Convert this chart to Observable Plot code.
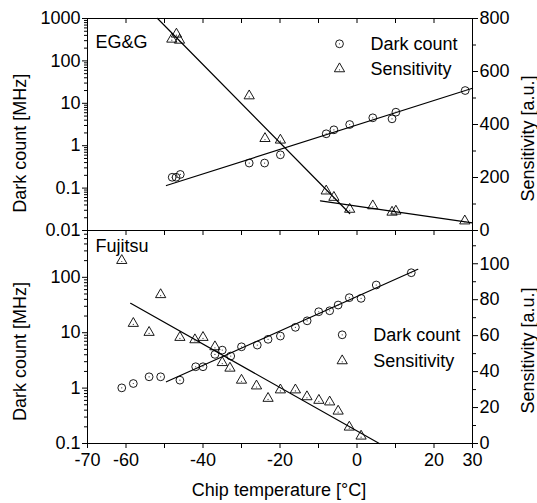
<!DOCTYPE html>
<html><head><meta charset="utf-8">
<script src="https://cdn.jsdelivr.net/npm/d3@7"></script>
<script src="https://cdn.jsdelivr.net/npm/@observablehq/plot@0.6"></script>
<style>
body{margin:0;background:#fff;}
#chart{width:537px;height:503px;position:relative;background:#fff;}
#chart svg{display:block;overflow:visible;}
</style></head><body><div id="chart"></div>
<script>
// ---- shared x axis ----
const tempTicks = [-70,-60,-50,-40,-30,-20,-10,0,10,20,30];
const tempLabels = [-70,-60,-40,-20,0,20,30];

// ---- EG&G panel ----
const egDarkT = [-48.0,-47.0,-45.9,-28.0,-24.0,-19.9,-8.0,-6.0,-1.9,4.1,9.1,10.1,28.1];
const egDarkV = [0.18,0.18,0.21,0.39,0.39,0.61,1.91,2.37,3.16,4.55,4.3,6.17,20];
const egSensT = [-48.1,-46.9,-46.1,-28.0,-23.9,-19.9,-8.0,-6.0,-1.9,4.1,9.1,10.1,28.0];
const egSensV = [722,741,718,508,347,341,149,125,80,93,69,73,36];
const egDarkFitT = [-49.5, 30], egDarkFitV = [0.115, 22.7];
const egSensFit1T = [-51.8, -1.9], egSensFit1V = [800, 64];
const egSensFit2T = [-9.5, 30], egSensFit2V = [112, 28.7];
const egLeftMajor = [0.01,0.1,1,10,100,1000];
const egRightMajor = [0,200,400,600,800];
const egRightMinor = [100,300,500,700];

// ---- Fujitsu panel ----
const fjDarkT = [-61.1,-58.1,-54.0,-51.0,-46.0,-41.9,-40.0,-36.9,-35.0,-32.8,-30.0,-25.9,-23.1,-19.9,-16.0,-12.95,-9.94,-7.1,-4.9,-2.0,1.06,5.0,14.1];
const fjDarkV = [1.01,1.21,1.6,1.6,1.39,2.43,2.43,4.06,4.85,3.79,5.57,5.98,7.6,8.7,12.5,16.4,23.9,24.9,31.6,42.9,41.7,72.6,121];
const fjSensT = [-61.1,-58.1,-54.0,-51.0,-46.0,-42.1,-40.0,-36.9,-35.0,-33.0,-30.0,-26.1,-23.1,-19.9,-16.0,-13.0,-9.9,-7.1,-4.9,-2.0,1.06];
const fjSensV = [101.8,66.8,61.8,82.8,59,57.7,59,53.8,45,41.9,35.2,32,25.1,29.8,29.8,26,24,23.1,18,9.1,4.1];
const fjDarkFitT = [-49.5, 15.8], fjDarkFitV = [1.30, 139.6];
const fjSensFitT = [-58.8, 5.8], fjSensFitV = [78, 0];
const fjLeftMajor = [0.1,1,10,100];
const fjRightMajor = [0,20,40,60,80,100];
const fjRightMinor = [10,30,50,70,90,110];

const FONT = "Arial, 'Liberation Sans', Helvetica, sans-serif";
const W = 537, ML = 87, MR = 65;

function logMinor(lo, hi) {
  const out = [];
  for (let e = Math.round(Math.log10(lo)); e < Math.round(Math.log10(hi)) + 1; e++) {
    for (let k = 2; k <= 9; k++) { const v = k * Math.pow(10, e); if (v > lo && v < hi) out.push(v); }
  }
  return out;
}

function panel(cfg) {
  const [y0, y1] = cfg.yDomain;
  const l0 = Math.log10(y0), l1 = Math.log10(y1);
  const toY = s => Math.pow(10, l0 + (s / cfg.sMax) * (l1 - l0));
  const dark = cfg.darkT.map((t, i) => ({t, v: cfg.darkV[i]}));
  const sens = cfg.sensT.map((t, i) => ({t, v: toY(cfg.sensV[i])}));
  const frameH = cfg.height - cfg.marginTop - cfg.marginBottom;
  const fitLines = cfg.darkFits.map(f => f.T.map((t, i) => ({t, v: f.V[i]})))
    .concat(cfg.sensFits.map(f => f.T.map((t, i) => ({t, v: toY(f.V[i])}))));
  const sym = {stroke: "black", fill: "none", strokeWidth: 0.9};
  const marks = [
    Plot.axisY({anchor: "left", ticks: cfg.leftMajor, tickSize: 5, tickPadding: 2, tickFormat: d => String(d), label: null}),
    Plot.axisY({anchor: "left", ticks: logMinor(y0, y1), tickSize: 3, tickFormat: () => "", label: null}),
    Plot.axisY({anchor: "right", ticks: cfg.rightMajor.map(toY), tickSize: 5, tickFormat: () => "", label: null}),
    Plot.axisY({anchor: "right", ticks: cfg.rightMinor.map(toY), tickSize: 3, tickFormat: () => "", label: null}),
    Plot.text(cfg.rightMajor, {frameAnchor: "right", y: d => toY(d), text: d => String(d), dx: 7, textAnchor: "start", lineAnchor: "middle", fontSize: 18}),
    Plot.ruleX(tempTicks, {x: d => d, insetBottom: frameH - 5, stroke: "black"}),
    Plot.frame({stroke: "black"})
  ];
  if (cfg.bottomAxis) {
    marks.push(Plot.axisX({anchor: "bottom", ticks: tempTicks, tickSize: 5, tickPadding: 5,
      tickFormat: d => tempLabels.includes(d) ? String(d) : "", label: null}));
    marks.push(Plot.text(["Chip temperature [°C]"], {frameAnchor: "bottom", dy: 47, dx: -1, textAnchor: "middle", lineAnchor: "middle", fontSize: 18}));
  }
  for (const L of fitLines) marks.push(Plot.line(L, {x: "t", y: "v", stroke: "black", strokeWidth: 1.2}));
  marks.push(
    Plot.dot(dark, {x: "t", y: "v", r: 3.9, ...sym}),
    Plot.dot(dark, {x: "t", y: "v", r: 0.6, fill: "#333"}),
    Plot.dot(sens, {x: "t", y: "v", r: 3.8, symbol: "triangle", ...sym}),
    Plot.dot(sens, {x: "t", y: "v", r: 0.6, fill: "#333", dy: 1}),
    Plot.text([cfg.name], {frameAnchor: "top-left", dx: 8, dy: cfg.nameDy, textAnchor: "start", lineAnchor: "middle", fontSize: 18}),
    Plot.dot([0], {frameAnchor: "top-left", dx: cfg.legDx, dy: cfg.legDy, r: 3.9, ...sym}),
    Plot.dot([0], {frameAnchor: "top-left", dx: cfg.legDx, dy: cfg.legDy, r: 0.6, fill: "#333"}),
    Plot.dot([0], {frameAnchor: "top-left", dx: cfg.legDx, dy: cfg.legDy + cfg.legGap, r: 3.8, symbol: "triangle", ...sym}),
    Plot.dot([0], {frameAnchor: "top-left", dx: cfg.legDx, dy: cfg.legDy + cfg.legGap + 1, r: 0.6, fill: "#333"}),
    Plot.text(["Dark count"], {frameAnchor: "top-left", dx: cfg.legDx + 31, dy: cfg.legDy, textAnchor: "start", lineAnchor: "middle", fontSize: 18}),
    Plot.text(["Sensitivity"], {frameAnchor: "top-left", dx: cfg.legDx + 31, dy: cfg.legDy + cfg.legGap, textAnchor: "start", lineAnchor: "middle", fontSize: 18}),
    Plot.text(["Dark count [MHz]"], {frameAnchor: "left", rotate: -90, dx: -67.5, dy: cfg.titleDyL, textAnchor: "middle", lineAnchor: "middle", fontSize: 18}),
    Plot.text(["Sensitivity [a.u.]"], {frameAnchor: "right", rotate: -90, dx: 56, dy: cfg.titleDyR, textAnchor: "middle", lineAnchor: "middle", fontSize: 18})
  );
  return Plot.plot({
    width: W, height: cfg.height,
    marginLeft: ML, marginRight: MR, marginTop: cfg.marginTop, marginBottom: cfg.marginBottom,
    x: {domain: [-70, 30], axis: null},
    y: {type: "log", domain: cfg.yDomain, axis: null},
    style: {fontFamily: FONT, fontSize: "18px", color: "black", background: "white", overflow: "visible"},
    marks
  });
}

const topPanel = panel({
  height: 230, marginTop: 18, marginBottom: 0,
  yDomain: [0.01, 1000], sMax: 800,
  darkT: egDarkT, darkV: egDarkV, sensT: egSensT, sensV: egSensV,
  darkFits: [{T: egDarkFitT, V: egDarkFitV}],
  sensFits: [{T: egSensFit1T, V: egSensFit1V}, {T: egSensFit2T, V: egSensFit2V}],
  leftMajor: egLeftMajor, rightMajor: egRightMajor, rightMinor: egRightMinor,
  name: "EG&G", nameDy: 23.3, legDx: 252, legDy: 25.3, legGap: 25,
  titleDyL: 18.7, titleDyR: 14, bottomAxis: false
});
const bottomPanel = panel({
  height: 273, marginTop: 0, marginBottom: 60,
  yDomain: [0.1, 700], sMax: 118.5,
  darkT: fjDarkT, darkV: fjDarkV, sensT: fjSensT, sensV: fjSensV,
  darkFits: [{T: fjDarkFitT, V: fjDarkFitV}],
  sensFits: [{T: fjSensFitT, V: fjSensFitV}],
  leftMajor: fjLeftMajor, rightMajor: fjRightMajor, rightMinor: fjRightMinor,
  name: "Fujitsu", nameDy: 15.9, legDx: 254.7, legDy: 104.3, legGap: 26,
  titleDyL: 14.5, titleDyR: 13.5, bottomAxis: true
});
document.getElementById("chart").append(topPanel, bottomPanel);
</script></body></html>
